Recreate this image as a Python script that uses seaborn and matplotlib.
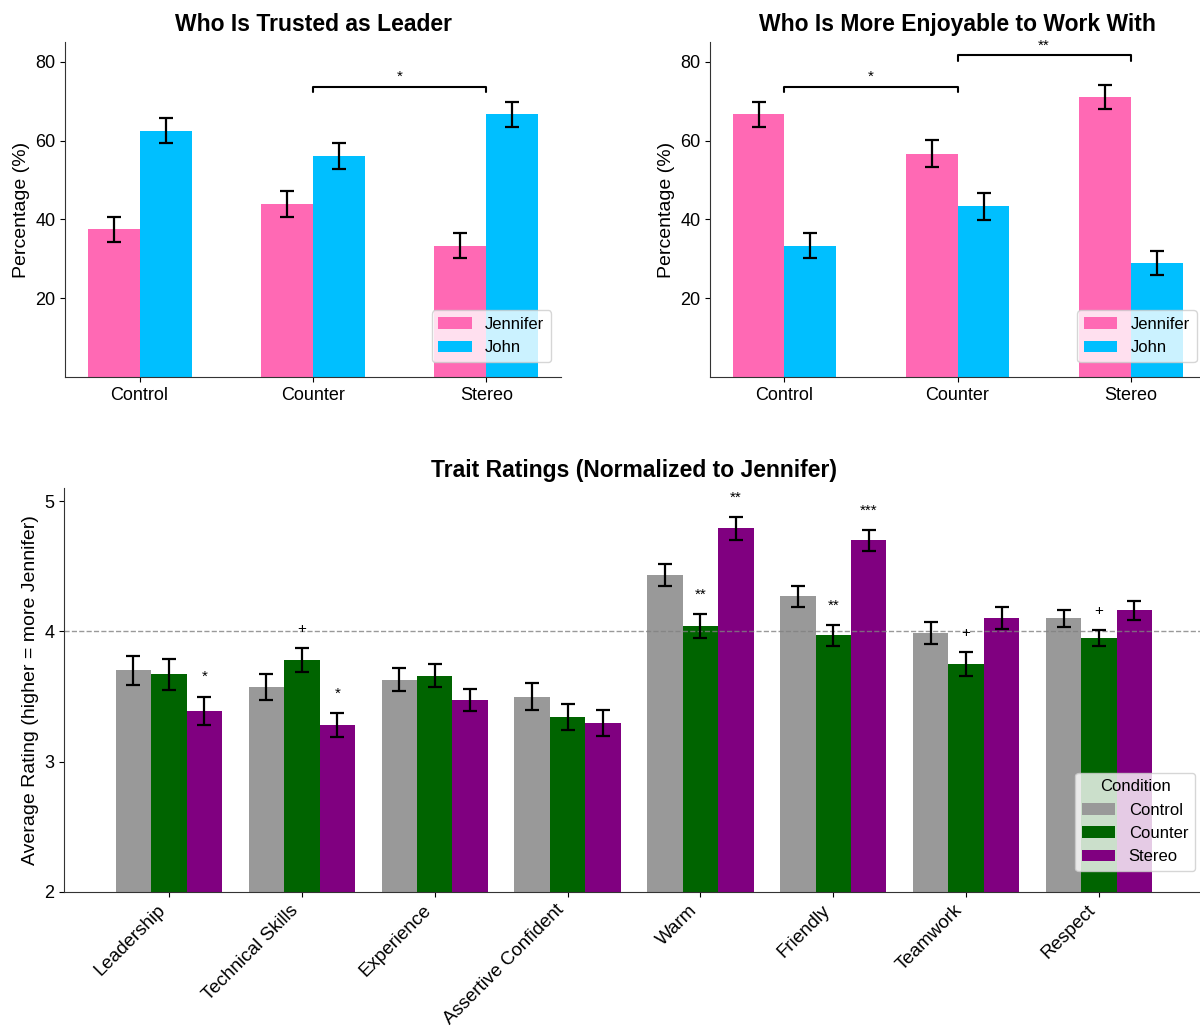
import matplotlib
matplotlib.use("Agg")
import matplotlib.pyplot as plt
import numpy as np
import pandas as pd
import seaborn as sns

# ---- Data ----
conditions = ["Control", "Counter", "Stereo"]
people = ["Jennifer", "John"]

leader_jennifer = [37.5, 43.8, 33.3]
leader_john = [62.5, 56.2, 66.7]
leader_err = [3.2, 3.3, 3.2]
leader_sig = [("Counter", "Stereo", "*")]

enjoy_jennifer = [66.7, 56.7, 71.1]
enjoy_john = [33.3, 43.3, 28.9]
enjoy_err = [3.2, 3.35, 3.05]
enjoy_sig = [("Control", "Counter", "*"), ("Counter", "Stereo", "**")]

traits = ["Leadership", "Technical Skills", "Experience", "Assertive Confident",
          "Warm", "Friendly", "Teamwork", "Respect"]
control_mean = [3.70, 3.57, 3.63, 3.50, 4.43, 4.27, 3.99, 4.10]
counter_mean = [3.67, 3.78, 3.66, 3.34, 4.04, 3.97, 3.75, 3.95]
stereo_mean = [3.39, 3.28, 3.47, 3.30, 4.79, 4.70, 4.10, 4.16]
control_se = [0.11, 0.10, 0.085, 0.105, 0.085, 0.08, 0.085, 0.065]
counter_se = [0.12, 0.09, 0.09, 0.10, 0.09, 0.08, 0.09, 0.06]
stereo_se = [0.11, 0.09, 0.085, 0.10, 0.09, 0.08, 0.085, 0.07]
control_sig = ["", "", "", "", "", "", "", ""]
counter_sig = ["", "+", "", "", "**", "**", "+", "+"]
stereo_sig = ["*", "*", "", "", "**", "***", "", ""]

person_colors = {"Jennifer": "#FF69B4", "John": "#00BFFF"}
condition_colors = {"Control": "#999999", "Counter": "#006400", "Stereo": "#800080"}

# ---- Style ----
sns.set_style("ticks")
plt.rcParams["font.family"] = ["Liberation Sans", "DejaVu Sans"]
plt.rcParams["text.color"] = "black"
plt.rcParams["axes.labelcolor"] = "black"
plt.rcParams["xtick.color"] = "black"
plt.rcParams["ytick.color"] = "black"
plt.rcParams["axes.edgecolor"] = "#333333"

fig = plt.figure(figsize=(12, 10.28), dpi=100)
ax_lead = fig.add_axes([0.0542, 0.6333, 0.4133, 0.3258])
ax_enjoy = fig.add_axes([0.5917, 0.6333, 0.4125, 0.3258])
ax_trait = fig.add_axes([0.0533, 0.1323, 0.9500, 0.3930])


def add_errorbars(ax, errs_by_container):
    for container, errs in zip(ax.containers, errs_by_container):
        xs = [b.get_x() + b.get_width() / 2 for b in container]
        ys = [b.get_height() for b in container]
        ax.errorbar(xs, ys, yerr=errs, fmt="none", ecolor="black",
                    elinewidth=1.6, capsize=4.8, capthick=1.6, zorder=3)


def pct_panel(ax, jen, john, err, sigs, title, legend_anchor):
    df = pd.DataFrame({
        "Condition": conditions * 2,
        "Person": ["Jennifer"] * 3 + ["John"] * 3,
        "Percentage": jen + john,
    })
    sns.barplot(data=df, x="Condition", y="Percentage", hue="Person",
                order=conditions, hue_order=people, palette=person_colors,
                width=0.6, saturation=1, errorbar=None, linewidth=0, ax=ax)
    add_errorbars(ax, [err, err])
    ax.set_xlim(-0.43, 2.43)
    ax.set_ylim(0, 85)
    ax.set_yticks([20, 40, 60, 80])
    ax.set_xlabel("")
    ax.set_ylabel("Percentage (%)", fontsize=14)
    ax.set_title(title, fontsize=16.5, fontweight="bold", pad=8)
    ax.tick_params(labelsize=13)
    sns.move_legend(ax, "lower right", bbox_to_anchor=legend_anchor,
                    borderaxespad=0, title=None, fontsize=12)
    sns.despine(ax=ax)

    # significance brackets between condition groups
    tops = {c: max(j + e, h + e) for c, j, h, e in zip(conditions, jen, john, err)}
    first = sigs[0]
    base = max(tops[first[0]], tops[first[1]]) + 3.8
    for level, (a, b, label) in enumerate(sigs):
        x1, x2 = conditions.index(a), conditions.index(b)
        y = base + 8 * level
        ax.plot([x1, x1, x2, x2], [y - 1.5, y, y, y - 1.5], color="black",
                lw=1.5, clip_on=False)
        ax.text((x1 + x2) / 2, y + 0.6, label, ha="center", va="bottom",
                fontsize=11, clip_on=False)


pct_panel(ax_lead, leader_jennifer, leader_john, leader_err, leader_sig,
          "Who Is Trusted as Leader", (0.980, 0.045))
pct_panel(ax_enjoy, enjoy_jennifer, enjoy_john, enjoy_err, enjoy_sig,
          "Who Is More Enjoyable to Work With", (0.983, 0.045))

# ---- Trait ratings ----
trait_df = pd.DataFrame({
    "Trait": traits * 3,
    "Condition": ["Control"] * 8 + ["Counter"] * 8 + ["Stereo"] * 8,
    "Rating": control_mean + counter_mean + stereo_mean,
})
sns.barplot(data=trait_df, x="Trait", y="Rating", hue="Condition",
            order=traits, hue_order=conditions, palette=condition_colors,
            width=0.8, saturation=1, errorbar=None, linewidth=0, ax=ax_trait)
ses = [control_se, counter_se, stereo_se]
sigs = [control_sig, counter_sig, stereo_sig]
add_errorbars(ax_trait, ses)
for container, se, sig in zip(ax_trait.containers, ses, sigs):
    for bar, e, s in zip(container, se, sig):
        if s:
            ax_trait.text(bar.get_x() + bar.get_width() / 2,
                          bar.get_height() + e + 0.095, s,
                          ha="center", va="bottom", fontsize=11)

ax_trait.axhline(4, color="gray", linestyle="--", lw=1, alpha=0.8, zorder=2.5)
ax_trait.set_xlim(-0.79, 7.79)
ax_trait.set_ylim(2, 5.1)
ax_trait.set_yticks([2, 3, 4, 5])
ax_trait.set_xlabel("")
ax_trait.set_ylabel("Average Rating (higher = more Jennifer)", fontsize=14)
ax_trait.set_title("Trait Ratings (Normalized to Jennifer)", fontsize=16.5,
                   fontweight="bold", pad=8)
ax_trait.tick_params(axis="y", labelsize=13)
ax_trait.tick_params(axis="x", labelsize=13.5)
plt.setp(ax_trait.get_xticklabels(), rotation=45, ha="right")
sns.move_legend(ax_trait, "lower right", bbox_to_anchor=(0.992, 0.052),
                borderaxespad=0, title="Condition", fontsize=12,
                title_fontsize=12)
sns.despine(ax=ax_trait)

fig.savefig("out.png", dpi=100)
